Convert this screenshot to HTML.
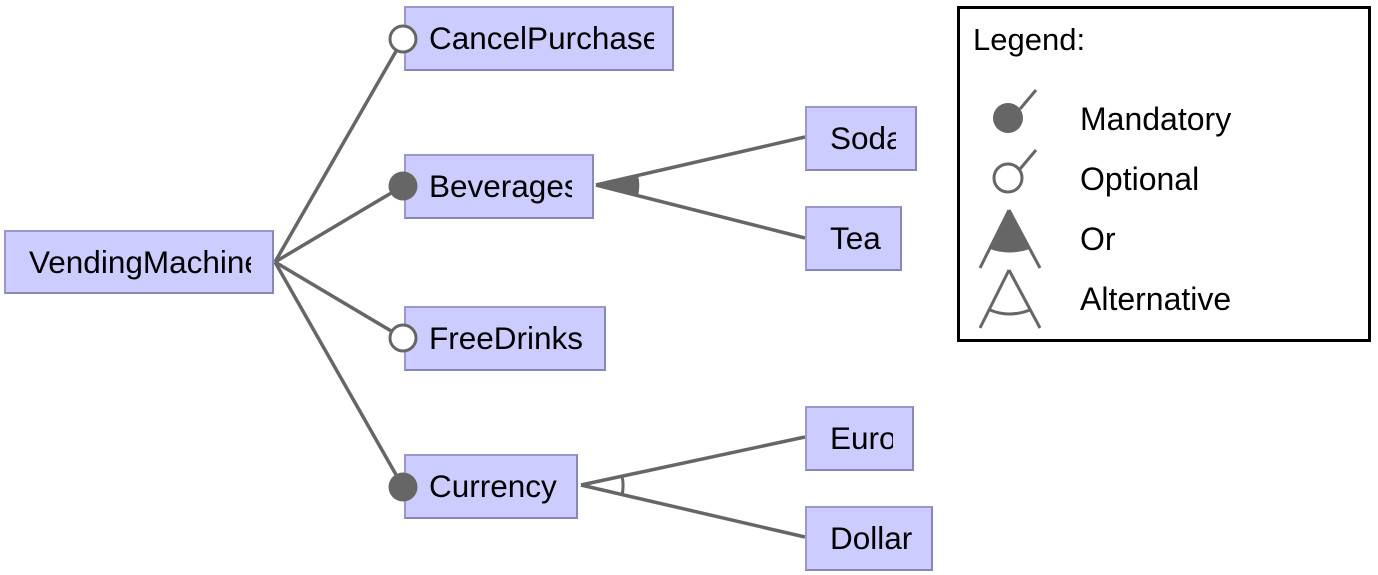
<!DOCTYPE html>
<html><head><style>
body{margin:0;width:1378px;height:575px;background:#fff;overflow:hidden;position:relative;font-family:"Liberation Sans",sans-serif}
.b{position:absolute;background:#ccccff;border:2px solid #9999cc;border-right-color:#8888b8;border-bottom-color:#8888b8;box-sizing:border-box;overflow:hidden;white-space:nowrap;font-size:31.5px;color:#000;padding-left:23px;line-height:60px}
.b span{display:block;overflow:hidden}
</style></head><body>
<svg width="1378" height="575" style="position:absolute;left:0;top:0">
<g stroke="#666" stroke-width="3.5" fill="none">
<line x1="275" y1="262" x2="403" y2="39"/>
<line x1="275" y1="262" x2="403" y2="186"/>
<line x1="275" y1="262" x2="403" y2="338"/>
<line x1="275" y1="262" x2="403" y2="487"/>
<line x1="596" y1="185" x2="805" y2="137"/>
<line x1="596" y1="185" x2="805" y2="238"/>
<line x1="581" y1="485" x2="805" y2="437"/>
<line x1="581" y1="485" x2="805" y2="537"/>
</g>
<path d="M596,185 L638,175 A44,44 0 0 1 638,196 Z" fill="#666"/>
<path d="M622,476 A42,42 0 0 1 622,495" stroke="#666" stroke-width="3" fill="none"/>
</svg>
<div class="b" style="left:4px;top:230px;width:270px;height:64px"><span style="width:222px">VendingMachine</span></div>
<div class="b" style="left:404px;top:6px;width:270px;height:65px"><span style="width:225px">CancelPurchase</span></div>
<div class="b" style="left:404px;top:154px;width:190px;height:65px"><span style="width:143px">Beverages</span></div>
<div class="b" style="left:404px;top:306px;width:202px;height:65px"><span>FreeDrinks</span></div>
<div class="b" style="left:404px;top:454px;width:174px;height:65px"><span>Currency</span></div>
<div class="b" style="left:805px;top:106px;width:112px;height:65px"><span style="width:66px">Soda</span></div>
<div class="b" style="left:805px;top:206px;width:97px;height:65px"><span>Tea</span></div>
<div class="b" style="left:805px;top:406px;width:109px;height:65px"><span style="width:63px">Euro</span></div>
<div class="b" style="left:805px;top:506px;width:128px;height:65px"><span>Dollar</span></div>
<svg width="1378" height="575" style="position:absolute;left:0;top:0">
<circle cx="403" cy="39" r="13" fill="#fff" stroke="#666" stroke-width="3"/>
<circle cx="403" cy="186" r="14.5" fill="#666"/>
<circle cx="403" cy="338" r="13" fill="#fff" stroke="#666" stroke-width="3"/>
<circle cx="403" cy="487" r="14.5" fill="#666"/>
<rect x="958.5" y="7.5" width="411" height="333" fill="none" stroke="#000" stroke-width="3"/>
<text x="973" y="50" font-family="Liberation Sans" font-size="31">Legend:</text>
<text x="1080" y="130" font-family="Liberation Sans" font-size="32">Mandatory</text>
<text x="1080" y="190" font-family="Liberation Sans" font-size="32">Optional</text>
<text x="1080" y="250" font-family="Liberation Sans" font-size="32">Or</text>
<text x="1080" y="310" font-family="Liberation Sans" font-size="32">Alternative</text>
<g stroke="#666" stroke-width="3" fill="none">
<line x1="1020" y1="109" x2="1036" y2="90"/>
<circle cx="1008" cy="118" r="15" fill="#666" stroke="none"/>
<line x1="1020" y1="169" x2="1036" y2="150"/>
<circle cx="1008" cy="178" r="14"/>
<line x1="1009" y1="210" x2="980" y2="268"/>
<line x1="1009" y1="210" x2="1040" y2="268"/>
<line x1="1009" y1="270" x2="980" y2="328"/>
<line x1="1009" y1="270" x2="1040" y2="328"/>
<path d="M990,310 Q1009,318 1030,310"/>
</g>
<path d="M1009,210 L990,249 Q1009,256 1030,249 Z" fill="#666"/>
</svg>
</body></html>
